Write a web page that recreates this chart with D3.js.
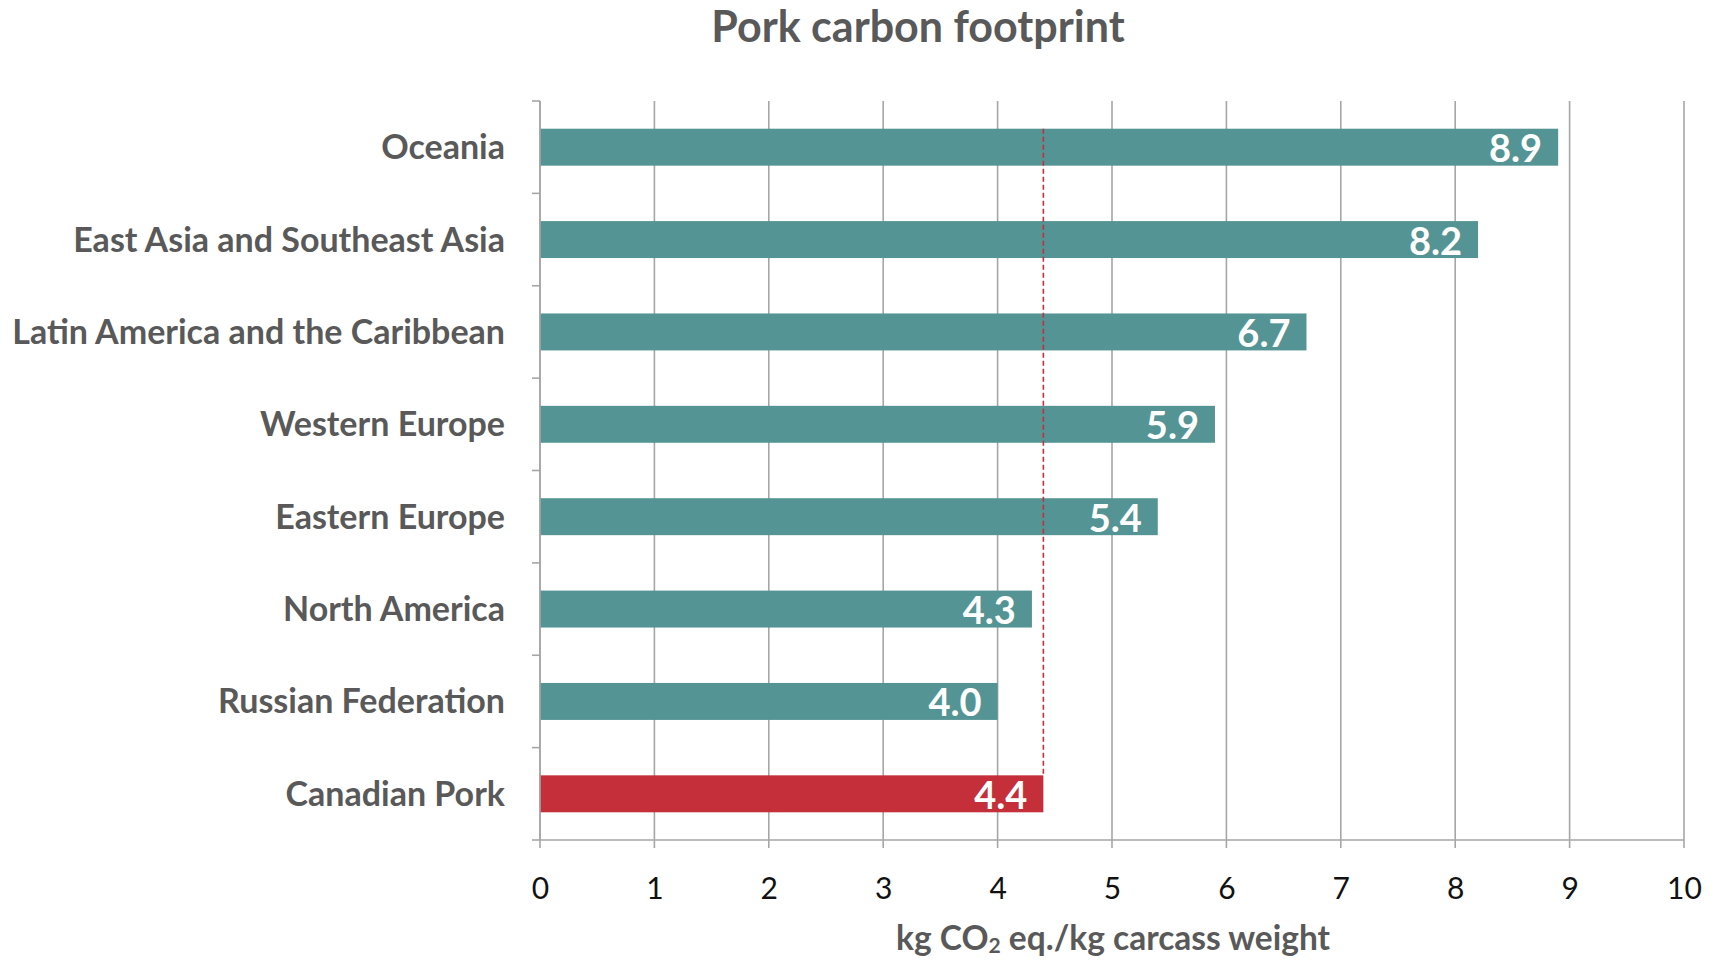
<!DOCTYPE html>
<html>
<head>
<meta charset="utf-8">
<script src="https://cdn.jsdelivr.net/npm/d3@7"></script>
<style>
  html, body { margin: 0; padding: 0; background: #ffffff; }
  svg { display: block; }
</style>
</head>
<body>
<svg id="chart" width="1711" height="960"></svg>
<script>
// Pork carbon footprint by region (kg CO2 eq. per kg carcass weight)
const categories = [
  "Oceania",
  "East Asia and Southeast Asia",
  "Latin America and the Caribbean",
  "Western Europe",
  "Eastern Europe",
  "North America",
  "Russian Federation",
  "Canadian Pork"
];
const values = [8.9, 8.2, 6.7, 5.9, 5.4, 4.3, 4.0, 4.4];
const highlight = "Canadian Pork";
const xTicks = [0, 1, 2, 3, 4, 5, 6, 7, 8, 9, 10];
const xDomain = [0, 10];
const chartTitle = "Pork carbon footprint";

const W = 1711, H = 960;
const margin = { top: 101, right: 27, bottom: 120, left: 540 };
const innerW = W - margin.left - margin.right;
const innerH = H - margin.top - margin.bottom;

const teal = "#549494";
const red = "#C42F3A";
const textGrey = "#595959";
const gridGrey = "#A6A6A6";
const fontFam = "Lato, 'Open Sans', sans-serif";

const data = categories.map((c, i) => ({ cat: c, val: values[i] }));
const refValue = values[categories.indexOf(highlight)];

const svg = d3.select("#chart");

const x = d3.scaleLinear().domain(xDomain).range([0, innerW]);
const y = d3.scaleBand().domain(categories).range([0, innerH])
  .paddingInner(0.6).paddingOuter(0.3);

const g = svg.append("g").attr("transform", `translate(${margin.left},${margin.top})`);

// vertical gridlines, running past the baseline as tick marks
g.append("g").selectAll("line").data(xTicks).join("line")
  .attr("x1", d => x(d)).attr("x2", d => x(d))
  .attr("y1", 0).attr("y2", innerH + 8)
  .attr("stroke", gridGrey).attr("stroke-width", 1.6);

// x axis baseline
g.append("line")
  .attr("x1", 0).attr("x2", innerW)
  .attr("y1", innerH).attr("y2", innerH)
  .attr("stroke", gridGrey).attr("stroke-width", 1.6);

// category axis with ticks at band boundaries
const bounds = d3.range(categories.length + 1).map(i => i * y.step());
g.append("g").selectAll("line").data(bounds).join("line")
  .attr("x1", -8).attr("x2", 0)
  .attr("y1", d => d).attr("y2", d => d)
  .attr("stroke", gridGrey).attr("stroke-width", 1.6);

// x tick labels
const xAxis = d3.axisBottom(x).tickValues(xTicks).tickSize(0).tickPadding(0)
  .tickFormat(d3.format("d"));
const xa = g.append("g").attr("transform", `translate(0,${innerH})`).call(xAxis);
xa.select(".domain").remove();
xa.selectAll("text")
  .attr("dy", null).attr("y", 59)
  .attr("font-family", fontFam).attr("font-size", 30)
  .attr("fill", "#111");

// bars
g.append("g").selectAll("rect").data(data).join("rect")
  .attr("x", 0)
  .attr("y", d => y(d.cat))
  .attr("width", d => x(d.val))
  .attr("height", y.bandwidth())
  .attr("fill", d => d.cat === highlight ? red : teal);

// left axis line drawn over bars
g.append("line")
  .attr("x1", 0).attr("x2", 0)
  .attr("y1", 0).attr("y2", innerH)
  .attr("stroke", gridGrey).attr("stroke-width", 1.6);

// dashed reference line at the Canadian value
g.append("line")
  .attr("x1", x(refValue)).attr("x2", x(refValue))
  .attr("y1", y(categories[0])).attr("y2", y(highlight))
  .attr("stroke", red).attr("stroke-width", 1.6)
  .attr("stroke-dasharray", "5,3");

// value labels inside bar ends
g.append("g").selectAll("text").data(data).join("text")
  .attr("x", d => x(d.val) - 16)
  .attr("y", d => y(d.cat) + y.bandwidth() / 2 + 15)
  .attr("text-anchor", "end")
  .attr("font-family", fontFam).attr("font-weight", 700)
  .attr("font-size", 38).attr("fill", "#ffffff")
  .text(d => d3.format(".1f")(d.val));

// category labels
g.append("g").selectAll("text").data(data).join("text")
  .attr("x", -35)
  .attr("y", d => y(d.cat) + y.bandwidth() / 2 + 12)
  .attr("text-anchor", "end")
  .attr("font-family", fontFam).attr("font-weight", 700)
  .attr("font-size", 34).attr("fill", textGrey)
  .text(d => d.cat);

// chart title
svg.append("text")
  .attr("x", 918).attr("y", 42)
  .attr("text-anchor", "middle")
  .attr("font-family", fontFam).attr("font-weight", 700)
  .attr("font-size", 43).attr("fill", textGrey)
  .text(chartTitle);

// x axis title with subscript
const xt = svg.append("text")
  .attr("x", margin.left + innerW / 2 + 1).attr("y", 950)
  .attr("text-anchor", "middle")
  .attr("font-family", fontFam).attr("font-weight", 700)
  .attr("font-size", 33.5).attr("fill", textGrey);
xt.append("tspan").text("kg CO");
xt.append("tspan").attr("font-size", 21).attr("dy", 3).text("2");
xt.append("tspan").attr("dy", -3).text(" eq./kg carcass weight");
</script>
</body>
</html>
